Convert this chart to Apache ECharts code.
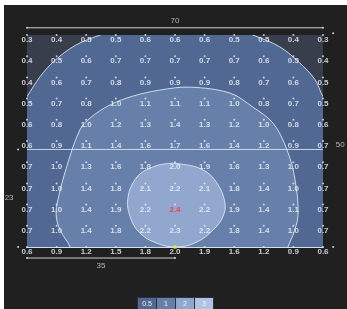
<!DOCTYPE html>
<html>
<head>
<meta charset="utf-8">
<script src="https://cdn.jsdelivr.net/npm/echarts@6/dist/echarts.min.js"></script>
<style>
  html, body { margin: 0; padding: 0; background: #ffffff; }
  #chart { position: absolute; left: 4px; top: 5px; width: 343px; height: 304px; background: #202021; }
</style>
</head>
<body>
<div id="chart"></div>
<script>
var xPositions = [0, 7, 14, 21, 28, 35, 42, 49, 56, 63, 70];
var yPositions = [50, 45, 40, 35, 30, 25, 20, 15, 10, 5, 0];
var values = [
  [0.3, 0.4, 0.5, 0.5, 0.6, 0.6, 0.6, 0.5, 0.5, 0.4, 0.3],
  [0.4, 0.5, 0.6, 0.7, 0.7, 0.7, 0.7, 0.7, 0.6, 0.5, 0.4],
  [0.4, 0.6, 0.7, 0.8, 0.9, 0.9, 0.9, 0.8, 0.7, 0.6, 0.5],
  [0.5, 0.7, 0.8, 1.0, 1.1, 1.1, 1.1, 1.0, 0.8, 0.7, 0.5],
  [0.6, 0.8, 1.0, 1.2, 1.3, 1.4, 1.3, 1.2, 1.0, 0.8, 0.6],
  [0.6, 0.9, 1.1, 1.4, 1.6, 1.7, 1.6, 1.4, 1.2, 0.9, 0.7],
  [0.7, 1.0, 1.3, 1.6, 1.8, 2.0, 1.9, 1.6, 1.3, 1.0, 0.7],
  [0.7, 1.0, 1.4, 1.8, 2.1, 2.2, 2.1, 1.8, 1.4, 1.0, 0.7],
  [0.7, 1.0, 1.4, 1.9, 2.2, 2.4, 2.2, 1.9, 1.4, 1.1, 0.7],
  [0.7, 1.0, 1.4, 1.8, 2.2, 2.3, 2.2, 1.8, 1.4, 1.0, 0.7],
  [0.6, 0.9, 1.2, 1.5, 1.8, 2.0, 1.9, 1.6, 1.2, 0.9, 0.6]
];

// field dimensions
var fieldWidth = 70;
var fieldHeight = 50;
var splitHeight = 23;
var halfWidth = 35;

// contour outlines (x, y in m)
var contour05 = [
  [-6, -6], [-4, 30], [0, 35.5], [3.1, 40.2], [6.6, 44.0], [11.5, 47.6], [17.3, 50], [23, 52],
  [48, 52], [53.4, 50], [59.8, 47.2], [64.5, 43.4], [68.1, 39.5], [70, 35.5], [74, 30], [76, -6]
];
var contour10 = [
  [61, -4], [61.7, 0], [62.9, 2.8], [64.1, 7.5], [63.4, 15.8], [61.5, 22.9], [58.2, 29.2],
  [53.4, 33.0], [48, 36.3], [38.5, 37.7], [31.4, 37.0], [25.1, 35.6], [19.6, 33.5], [14.9, 30.4],
  [12.5, 27.6], [9.5, 19.3], [7.3, 11.1], [6.9, 7.5], [7.8, 4.0], [10.2, 0], [11, -4]
];
var contour20 = [
  [35.5, 0], [30.7, 0.9], [26.7, 3.3], [24.4, 7.1], [23.9, 11.8], [26, 16.5], [29.1, 18.6],
  [32.6, 19.6], [36.2, 19.6], [41.6, 18.2], [44.9, 15.1], [46.8, 10.4], [46.3, 7.1], [44, 4.0],
  [40.2, 1.2]
];
var centrePoint = [35, 0];

var legendLevels = ['0.5', '1', '2', '3'];

var levelColors = ['#516892', '#6780a9', '#91a7cd', '#b0c3e3'];

var pointData = [];
var maxVal = 0;
values.forEach(function (row) { row.forEach(function (v) { if (v > maxVal) maxVal = v; }); });
values.forEach(function (row, r) {
  row.forEach(function (v, c) {
    var item = { value: [xPositions[c], yPositions[r], v] };
    if (v === maxVal) item.label = { color: '#ff2a2a' };
    pointData.push(item);
  });
});

function regionSeries(points, color, smooth) {
  return {
    type: 'custom',
    coordinateSystem: 'cartesian2d',
    silent: true,
    data: [[0, 0]],
    renderItem: function (params, api) {
      var cs = params.coordSys;
      return {
        type: 'polygon',
        shape: { points: points.map(function (p) { return api.coord(p); }), smooth: smooth },
        clipPath: { type: 'rect', shape: { x: cs.x, y: cs.y, width: cs.width, height: cs.height } },
        style: { fill: color, stroke: 'rgba(225,235,250,0.85)', lineWidth: 1 }
      };
    }
  };
}

function dimLine(points) {
  return {
    type: 'line',
    data: points,
    clip: false,
    silent: true,
    symbol: 'circle',
    symbolSize: 2,
    itemStyle: { color: '#cfcfcf' },
    lineStyle: { color: '#cfcfcf', width: 1 },
    animation: false
  };
}

var chart = echarts.init(document.getElementById('chart'));
chart.setOption({
  animation: false,
  backgroundColor: '#202021',
  grid: {
    left: 23, right: 24, top: 30, bottom: 62,
    show: true, backgroundColor: '#383e4c', borderWidth: 0
  },
  xAxis: {
    type: 'value', min: 0, max: fieldWidth,
    axisLine: { show: true, lineStyle: { color: '#d6deec', width: 1 } },
    axisTick: { show: false }, axisLabel: { show: false }, splitLine: { show: false }
  },
  yAxis: {
    type: 'value', min: 0, max: fieldHeight,
    axisLine: { show: false }, axisTick: { show: false },
    axisLabel: { show: false }, splitLine: { show: false }
  },
  series: [
    regionSeries(contour05, levelColors[0], 0.35),
    regionSeries(contour10, levelColors[1], 0.35),
    regionSeries(contour20, levelColors[2], 0.4),
    {
      type: 'line',
      data: [[0, splitHeight], [fieldWidth, splitHeight]],
      symbol: 'none', silent: true,
      lineStyle: { color: 'rgba(220,230,245,0.85)', width: 1 }
    },
    dimLine([[0, 51.7], [fieldWidth, 51.7]]),
    dimLine([[72.4, 0], [72.4, fieldHeight + 0.4]]),
    dimLine([[-2.1, 0], [-2.1, splitHeight]]),
    dimLine([[0, -2.6], [halfWidth, -2.6]]),
    {
      type: 'scatter',
      silent: true,
      clip: false,
      symbolSize: 0,
      data: [
        { value: [fieldWidth / 2, 51.7], label: { formatter: String(fieldWidth), offset: [0, -7] } },
        { value: [72.4, 24], label: { formatter: String(fieldHeight), offset: [7, 0] } },
        { value: [-2.1, splitHeight / 2], label: { formatter: String(splitHeight), offset: [-9, 0] } },
        { value: [halfWidth / 2, -2.6], label: { formatter: String(halfWidth), offset: [0, 8] } }
      ],
      label: { show: true, position: 'inside', color: '#d8d8d8', fontSize: 8, fontFamily: 'Liberation Sans' }
    },
    {
      type: 'scatter',
      silent: true,
      clip: false,
      data: pointData,
      symbol: 'circle',
      symbolSize: 2,
      itemStyle: { color: '#e6edf8' },
      label: {
        show: true, position: 'bottom', distance: 0,
        color: '#eef3fb', fontSize: 8, fontWeight: 'bold', fontFamily: 'Liberation Sans',
        formatter: function (p) { return p.value[2].toFixed(1); }
      }
    },
    {
      type: 'scatter',
      silent: true,
      clip: false,
      data: [centrePoint],
      symbolSize: 4,
      itemStyle: { color: '#d9e83c' }
    }
  ],
  graphic: legendLevels.map(function (t, i) {
    return {
      type: 'group',
      left: 133 + i * 19,
      top: 292,
      children: [
        { type: 'rect', shape: { x: 0, y: 0, width: 19, height: 14 }, style: { fill: levelColors[i], stroke: '#2a3140', lineWidth: 1 } },
        { type: 'text', style: { x: 9.5, y: 7, text: t, fill: '#eef3fb', font: '7px Liberation Sans', align: 'center', verticalAlign: 'middle' } }
      ]
    };
  })
});
</script>
</body>
</html>
